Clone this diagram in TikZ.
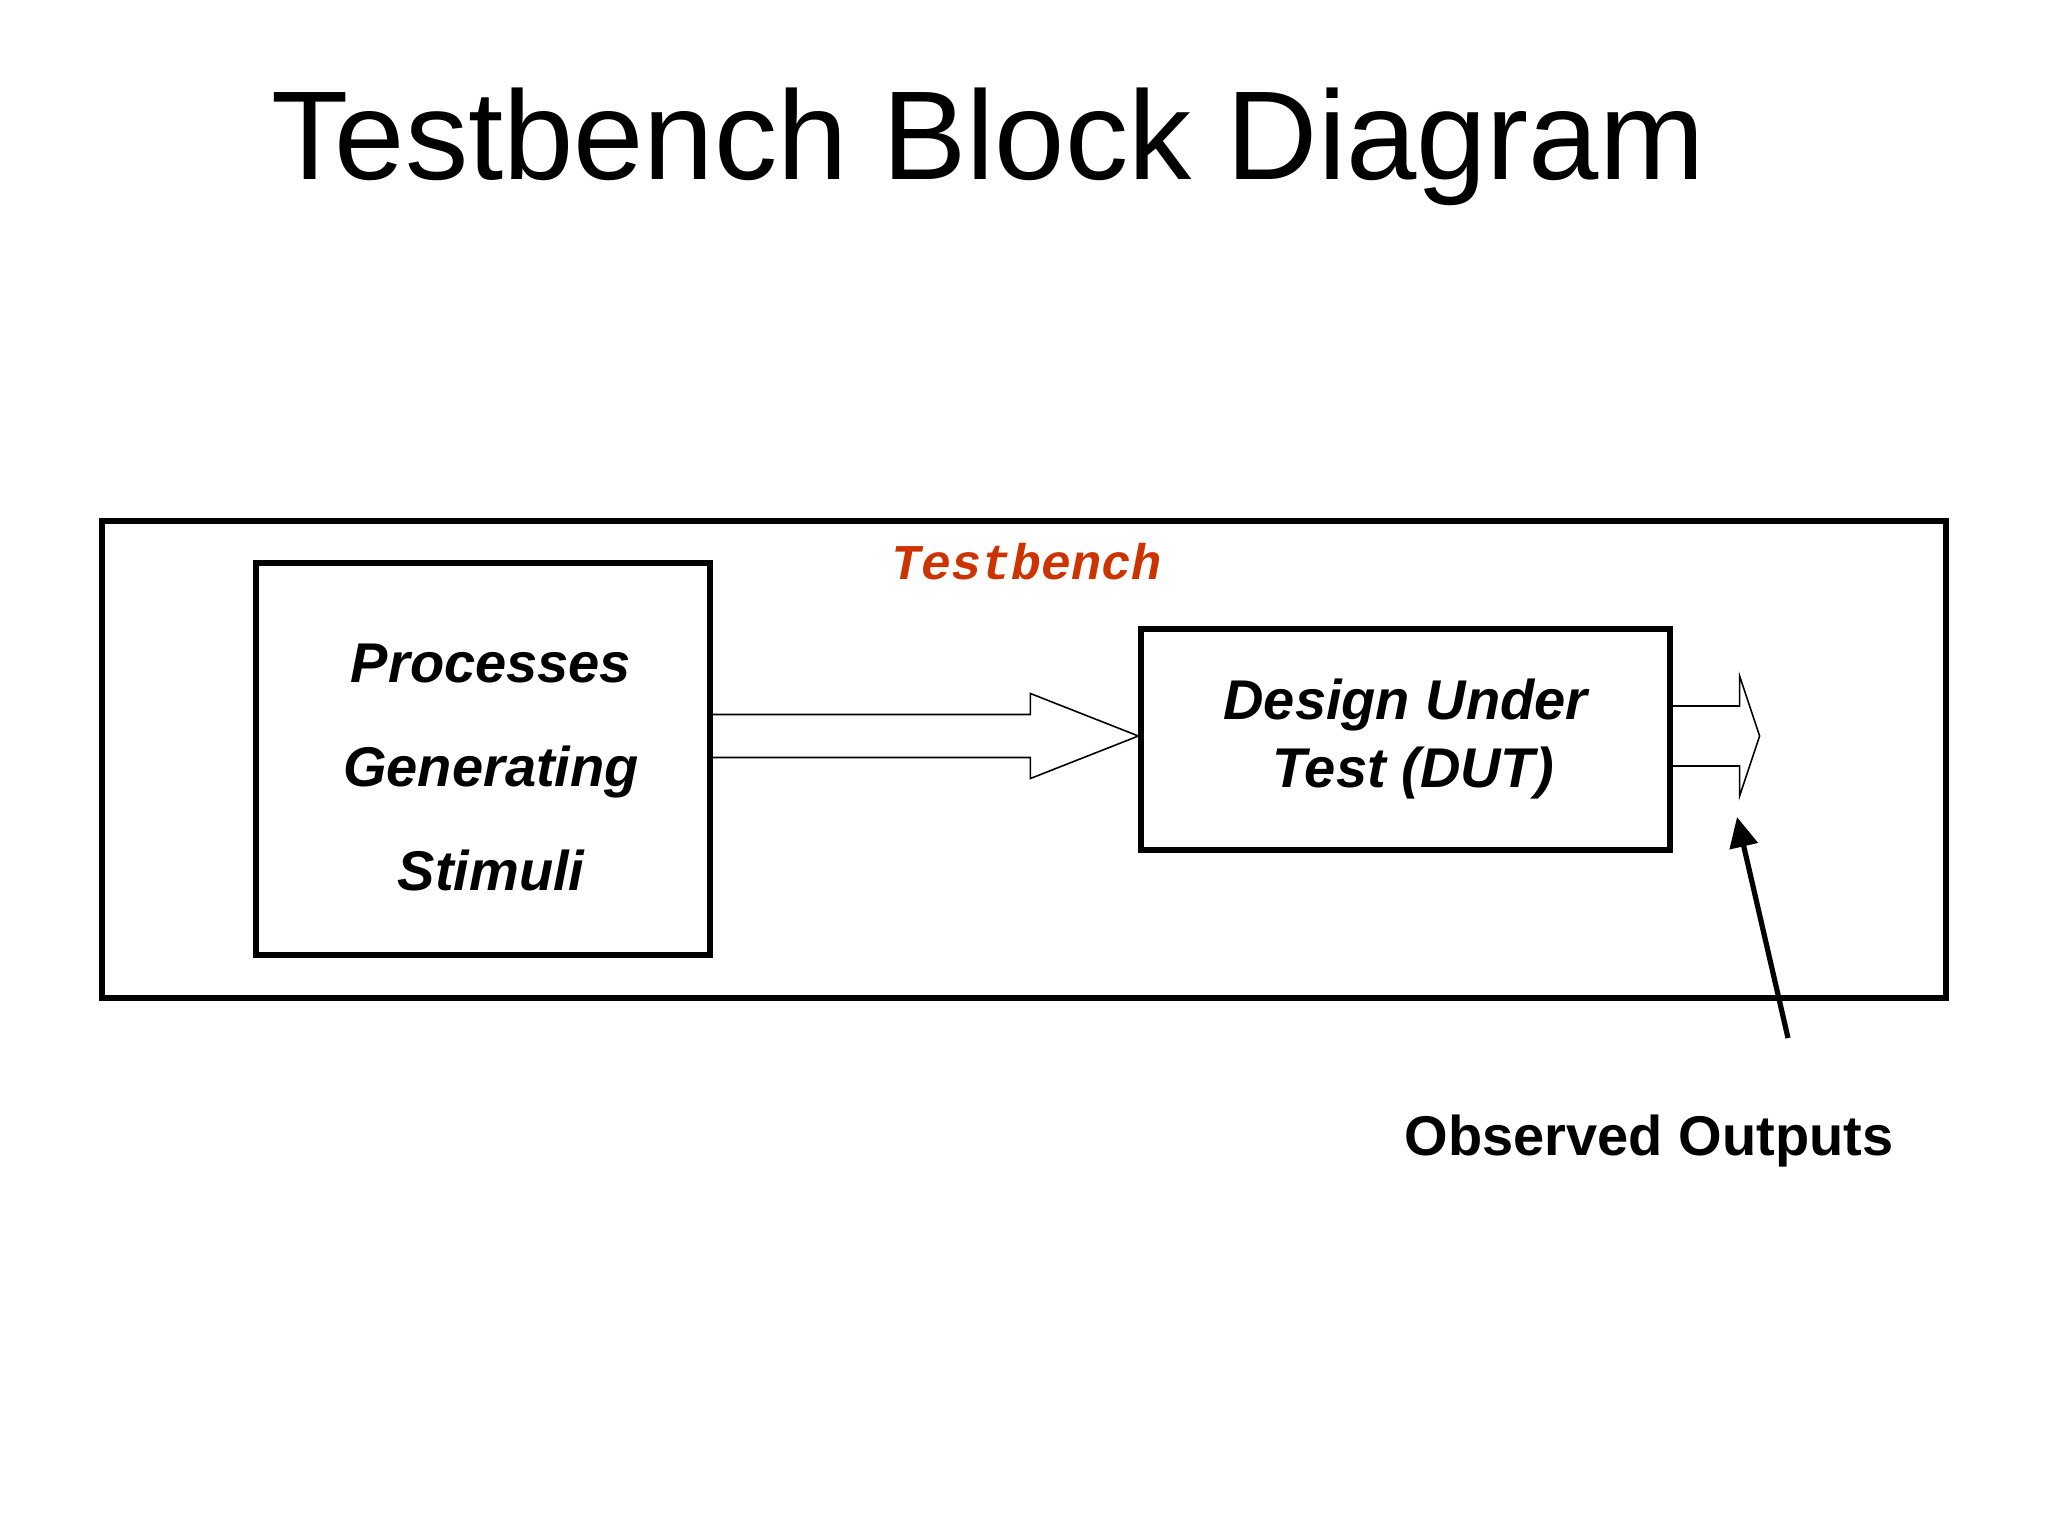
\documentclass[tikz,border=0pt]{standalone}
\usepackage{fontspec}
\setmainfont{Liberation Sans}
\setmonofont{Liberation Mono}
\usetikzlibrary{positioning,calc,arrows.meta}
\definecolor{tbred}{RGB}{204,51,0}

\begin{document}
\begin{tikzpicture}[x=0.5pt, y=-0.5pt,
    box/.style={draw, line width=2.6pt, inner sep=0pt, align=center},
    blockarrow/.style={draw, line width=0.8pt, line join=miter},
    pointer/.style={line width=2.6pt, -{Triangle[length=15pt, width=14pt]}}]
  \useasboundingbox (0,0) rectangle (2048,1536);
  \node[anchor=base, font=\fontsize{63.2}{70}\selectfont] (title) at (988,179) {Testbench Block Diagram};
  % outer frame and the two blocks
  \node[box, minimum width=922pt, minimum height=238.5pt] (tb) at (1024,759.5) {};
  \node[box, minimum width=227pt, minimum height=196pt] (stim) at (483,759) {};
  \node[align=center, font=\fontsize{28}{52}\selectfont\bfseries\itshape] (stimtext) at (491,767)
        {Processes\\Generating\\Stimuli};
  \node[box, minimum width=264.5pt, minimum height=110.5pt,
        font=\fontsize{28}{34}\selectfont\bfseries\itshape] (dut) at (1405.5,739.5)
        {Design Under\\ \ Test (DUT)};
  \node[anchor=base, text=tbred, font=\fontsize{25}{30}\selectfont\ttfamily\bfseries\itshape] (tblabel) at (1027,579) {Testbench};
  \node[anchor=base, font=\fontsize{28}{34}\selectfont\bfseries] (obs) at (1649,1155) {Observed Outputs};
  % block arrows
  \coordinate (in) at ($(dut.west)+(0,-3.5)$);
  \coordinate (s) at (stim.east |- in);
  \draw[blockarrow] ($(s)+(0,-21.5)$) -- ($(in)+(-108,-21.5)$) -- ($(in)+(-108,-42.5)$)
    -- (in) -- ($(in)+(-108,42.5)$) -- ($(in)+(-108,21.5)$) -- ($(s)+(0,21.5)$);
  \coordinate (out) at ($(dut.east)+(87,-3.5)$);
  \draw[blockarrow] ($(dut.east)+(0,-33.5)$) -- ($(out)+(-20,-30)$) -- ($(out)+(-20,-60)$)
    -- (out) -- ($(out)+(-20,60)$) -- ($(out)+(-20,30)$) -- ($(dut.east)+(0,26.5)$);
  % pointer to the outputs
  \coordinate (ptail) at (1788,1038);
  \coordinate (ptip) at (1737,817);
  \draw[pointer] (ptail) -- (ptip);
\end{tikzpicture}
\end{document}
